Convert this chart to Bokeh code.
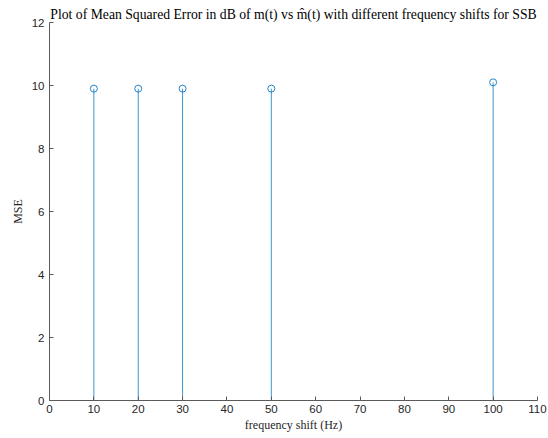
from bokeh.plotting import figure
from bokeh.models import FixedTicker, Range1d
from bokeh.embed import file_html
from bokeh.resources import INLINE

# Mean squared error (dB) for each frequency shift
freq_shift = [10, 20, 30, 50, 100]
mse_db = [9.9, 9.9, 9.9, 9.9, 10.1]
x_ticks = list(range(0, 111, 10))
y_ticks = list(range(0, 13, 2))

stem_color = "#0072BD"
axis_color = "#5a5a5a"
serif = "Liberation Serif"

p = figure(width=548, height=438, output_backend="svg", toolbar_location=None,
           x_range=Range1d(0, 110), y_range=Range1d(0, 12),
           min_border_left=49, min_border_right=11,
           min_border_top=22, min_border_bottom=38,
           title="Plot of Mean Squared Error in dB of m(t) vs m\u0302(t) with different frequency shifts for SSB")

p.title.align = "center"
p.title.text_font = serif
p.title.text_font_style = "normal"
p.title.text_font_size = "13.7px"
p.title.text_color = "#000000"
p.title.standoff = 2
p.title.offset = 0

p.outline_line_color = None
p.xgrid.visible = False
p.ygrid.visible = False
p.background_fill_color = "white"
p.border_fill_color = "white"

# stems and open circle markers
p.segment(x0=freq_shift, y0=[0] * len(freq_shift), x1=freq_shift, y1=mse_db,
          line_color=stem_color, line_width=1, line_alpha=0.75)
p.scatter(freq_shift, mse_db, marker="circle", size=7, fill_color=None,
          line_color=stem_color, line_width=1, line_alpha=0.85)

for ax, ticks in ((p.xaxis[0], x_ticks), (p.yaxis[0], y_ticks)):
    ax.ticker = FixedTicker(ticks=ticks)
    ax.axis_line_color = axis_color
    ax.major_tick_line_color = axis_color
    ax.major_tick_in = 4
    ax.major_tick_out = 0
    ax.minor_tick_line_color = None
    ax.major_label_text_font = "Liberation Sans"
    ax.major_label_text_font_size = "11.5px"
    ax.major_label_text_color = "#262626"
    ax.axis_label_text_font = serif
    ax.axis_label_text_font_style = "normal"
    ax.axis_label_text_font_size = "12px"
    ax.axis_label_text_color = "#262626"

p.xaxis.axis_label = "frequency shift (Hz)"
p.yaxis.axis_label = "MSE"
p.xaxis.major_label_standoff = 4
p.yaxis.major_label_standoff = 5
p.xaxis.axis_label_standoff = 2
p.yaxis.axis_label_standoff = 4

open("out.html", "w").write(file_html(p, INLINE))
